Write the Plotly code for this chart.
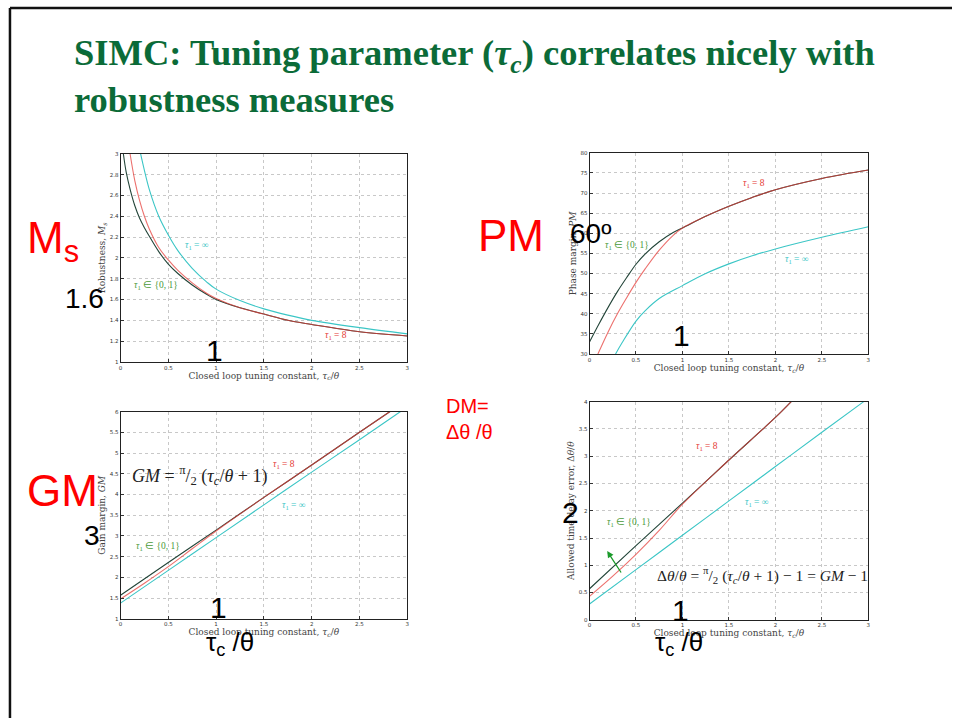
import plotly.graph_objects as go

W, H = 954, 721

# ---------------- data ----------------
ms_dark_x = [0.03, 0.06, 0.1, 0.15, 0.2, 0.25, 0.3, 0.4, 0.5, 0.6, 0.75, 0.9, 1.0, 1.25, 1.5, 1.75, 2.0, 2.5, 3.0]
ms_dark_y = [3.0, 2.82, 2.66, 2.50, 2.38, 2.29, 2.21, 2.06, 1.94, 1.85, 1.74, 1.65, 1.60, 1.52, 1.46, 1.40, 1.36, 1.29, 1.25]
ms_red_x = [0.10, 0.15, 0.2, 0.25, 0.3, 0.4, 0.5, 0.6, 0.75, 0.9, 1.0, 1.25, 1.5, 1.75, 2.0, 2.5, 3.0]
ms_red_y = [3.0, 2.74, 2.55, 2.40, 2.28, 2.10, 1.98, 1.88, 1.76, 1.66, 1.61, 1.52, 1.46, 1.40, 1.36, 1.29, 1.25]
ms_cyan_x = [0.21, 0.25, 0.3, 0.4, 0.5, 0.6, 0.75, 0.9, 1.0, 1.25, 1.5, 1.75, 2.0, 2.5, 3.0]
ms_cyan_y = [3.0, 2.84, 2.66, 2.40, 2.22, 2.07, 1.90, 1.77, 1.70, 1.59, 1.51, 1.45, 1.40, 1.33, 1.27]

pm_dark_x = [0.0, 0.1, 0.2, 0.3, 0.4, 0.5, 0.6, 0.75, 0.9, 1.0, 1.25, 1.5, 1.75, 2.0, 2.5, 3.0]
pm_dark_y = [33.0, 37.4, 41.6, 45.5, 49.0, 52.3, 54.9, 57.9, 60.2, 61.3, 64.2, 66.7, 68.9, 70.8, 73.6, 75.7]
pm_red_x = [0.09, 0.2, 0.3, 0.4, 0.5, 0.6, 0.75, 0.9, 1.0, 1.25, 1.5, 1.75, 2.0, 2.5, 3.0]
pm_red_y = [30.0, 35.5, 40.0, 44.0, 47.8, 51.2, 55.8, 59.5, 61.3, 64.2, 66.7, 68.9, 70.8, 73.6, 75.7]
pm_cyan_x = [0.28, 0.35, 0.5, 0.6, 0.75, 1.0, 1.25, 1.5, 1.75, 2.0, 2.5, 3.0]
pm_cyan_y = [30.0, 32.8, 38.2, 40.8, 43.8, 47.0, 50.0, 52.4, 54.4, 56.1, 59.0, 61.6]

gm_dark_x = [0.0, 0.5, 1.0, 1.5, 2.0, 2.5, 2.82]
gm_dark_y = [1.57, 2.36, 3.14, 3.93, 4.71, 5.50, 6.0]
gm_red_x = [0.0, 0.25, 0.5, 0.75, 1.0, 1.5, 2.0, 2.5, 2.82]
gm_red_y = [1.48, 1.86, 2.26, 2.69, 3.12, 3.93, 4.71, 5.50, 6.0]
gm_cyan_x = [0.0, 0.5, 1.0, 1.5, 2.0, 2.5, 2.93]
gm_cyan_y = [1.38, 2.17, 2.96, 3.75, 4.54, 5.32, 6.0]

dm_dark_x = [0.0, 0.5, 1.0, 1.5, 2.0, 2.17]
dm_dark_y = [0.57, 1.36, 2.14, 2.93, 3.71, 4.0]
dm_red_x = [0.0, 0.25, 0.5, 0.75, 1.0, 1.5, 2.0, 2.17]
dm_red_y = [0.43, 0.80, 1.20, 1.64, 2.12, 2.93, 3.71, 4.0]
dm_cyan_x = [0.0, 0.5, 1.0, 1.5, 2.0, 2.5, 2.95]
dm_cyan_y = [0.29, 0.92, 1.55, 2.18, 2.81, 3.44, 4.0]

x_ticks = [0, 0.5, 1, 1.5, 2, 2.5, 3]
x_tick_text = ["0", "0.5", "1", "1.5", "2", "2.5", "3"]

C_DARK = "#24463a"
C_RED = "#e53a36"
C_CYAN = "#3cc6c6"
C_LBL_GREEN = "#4a9a3a"

# ---------------- layout helpers ----------------
def px(x):
    return x / W

def py(y):
    return 1 - y / H

boxes = {
    1: (119, 407, 152, 362),
    2: (590, 870, 151, 354),
    3: (119, 407, 412, 621),
    4: (590, 870, 402, 622),
}
yranges = {1: (1, 3), 2: (30, 80), 3: (1, 6), 4: (0, 4)}
ydticks = {1: 0.2, 2: 5, 3: 0.5, 4: 0.5}
ytitles = {
    1: "Robustness, <i>M<sub>s</sub></i>",
    2: "Phase margin, <i>PM</i>",
    3: "Gain margin, <i>GM</i>",
    4: "Allowed time delay error, Δ<i>θ</i>/<i>θ</i>",
}

fig = go.Figure()

series = {
    1: [(ms_dark_x, ms_dark_y), (ms_red_x, ms_red_y), (ms_cyan_x, ms_cyan_y)],
    2: [(pm_dark_x, pm_dark_y), (pm_red_x, pm_red_y), (pm_cyan_x, pm_cyan_y)],
    3: [(gm_dark_x, gm_dark_y), (gm_red_x, gm_red_y), (gm_cyan_x, gm_cyan_y)],
    4: [(dm_dark_x, dm_dark_y), (dm_red_x, dm_red_y), (dm_cyan_x, dm_cyan_y)],
}
for k in range(1, 5):
    xa = "x" if k == 1 else f"x{k}"
    ya = "y" if k == 1 else f"y{k}"
    (dx, dy), (rx, ry), (cx, cy) = series[k]
    fig.add_trace(go.Scatter(x=cx, y=cy, mode="lines", line=dict(color=C_CYAN, width=1.1, shape="spline"),
                             xaxis=xa, yaxis=ya, showlegend=False, hoverinfo="skip"))
    fig.add_trace(go.Scatter(x=dx, y=dy, mode="lines", line=dict(color=C_DARK, width=1.1, shape="spline"),
                             xaxis=xa, yaxis=ya, showlegend=False, hoverinfo="skip"))
    fig.add_trace(go.Scatter(x=rx, y=ry, mode="lines", line=dict(color=C_RED, width=1.1, shape="spline"),
                             xaxis=xa, yaxis=ya, showlegend=False, hoverinfo="skip", opacity=0.72))

axis_common = dict(showline=True, mirror=True, linecolor="#222", linewidth=1,
                   showgrid=True, gridcolor="#c8c8c8", griddash="dot", gridwidth=1,
                   ticks="inside", ticklen=3, tickcolor="#333", zeroline=False,
                   tickfont=dict(size=5.5, color="#333", family="DejaVu Sans"))

layout = dict(width=W, height=H, margin=dict(l=0, r=0, t=0, b=0),
              paper_bgcolor="white", plot_bgcolor="white", showlegend=False)
for k in range(1, 5):
    l, r, t, b = boxes[k]
    xk = "xaxis" if k == 1 else f"xaxis{k}"
    yk = "yaxis" if k == 1 else f"yaxis{k}"
    ya = "y" if k == 1 else f"y{k}"
    xa = "x" if k == 1 else f"x{k}"
    layout[xk] = dict(axis_common, domain=[px(l), px(r)], range=[0, 3], anchor=ya,
                      tickvals=x_ticks, ticktext=x_tick_text,
                      title=dict(text="Closed loop tuning constant, <i>τ<sub>c</sub></i>/<i>θ</i>",
                                 font=dict(size=9, family="DejaVu Serif", color="#444"), standoff=2))
    y0, y1 = yranges[k]
    layout[yk] = dict(axis_common, domain=[py(b), py(t)], range=[y0, y1], anchor=xa,
                      dtick=ydticks[k], tick0=y0,
                      title=dict(text=ytitles[k], font=dict(size=9, family="DejaVu Serif", color="#444"),
                                 standoff=2))
fig.update_layout(**layout)

ann = []

def lab(k, x, y, text, color, size=9.5, family="Liberation Serif"):
    xa = "x" if k == 1 else f"x{k}"
    ya = "y" if k == 1 else f"y{k}"
    ann.append(dict(x=x, y=y, xref=xa, yref=ya, text=text, showarrow=False,
                    font=dict(size=size, color=color, family=family)))

T_INF = "<i>τ</i><sub>1</sub> = ∞"
T_01 = "<i>τ</i><sub>1</sub> ∈ {0, 1}"
T_8 = "<i>τ</i><sub>1</sub> = 8"

lab(1, 0.80, 2.12, T_INF, C_CYAN)
lab(1, 0.37, 1.73, T_01, C_LBL_GREEN)
lab(1, 2.25, 1.25, T_8, C_RED)
lab(2, 1.77, 72.4, T_8, C_RED)
lab(2, 0.40, 57.0, T_01, C_LBL_GREEN)
lab(2, 2.23, 53.6, T_INF, C_CYAN)
lab(3, 1.71, 4.73, T_8, C_RED)
lab(3, 1.81, 3.73, T_INF, C_CYAN)
lab(3, 0.39, 2.75, T_01, C_LBL_GREEN)
lab(4, 1.26, 3.17, T_8, C_RED)
lab(4, 1.80, 2.15, T_INF, C_CYAN)
lab(4, 0.42, 1.79, T_01, C_LBL_GREEN)

lab(3, 0.83, 4.45, "<i>GM</i> = <sup>π</sup>/<sub>2</sub> (<i>τ<sub>c</sub></i>/<i>θ</i> + 1)", "#222",
    size=18, family="Liberation Serif")
lab(4, 1.86, 0.82, "Δ<i>θ</i>/<i>θ</i> = <sup>π</sup>/<sub>2</sub> (<i>τ<sub>c</sub></i>/<i>θ</i> + 1) − 1 = <i>GM</i> − 1",
    "#222", size=15.5, family="Liberation Serif")

# green arrow in DM plot
ann.append(dict(x=0.19, y=1.26, ax=0.35, ay=0.84, xref="x4", yref="y4", axref="x4", ayref="y4",
                text="", showarrow=True, arrowhead=2, arrowsize=1, arrowwidth=1.3, arrowcolor="#1a9a2a"))

# title
TITLE_C = "#0b6b38"
ann.append(dict(x=px(70), y=py(53), xref="paper", yref="paper", xanchor="left", yanchor="middle",
                text="<b>SIMC: Tuning parameter (<i>τ<sub>c</sub></i>) correlates nicely with</b>",
                showarrow=False, font=dict(size=36.5, color=TITLE_C, family="Liberation Serif")))
ann.append(dict(x=px(70), y=py(97), xref="paper", yref="paper", xanchor="left", yanchor="middle",
                text="<b>robustness measures</b>",
                showarrow=False, font=dict(size=36.5, color=TITLE_C, family="Liberation Serif")))

def big(x, y, text, color, size, anchor="left"):
    ann.append(dict(x=px(x), y=py(y), xref="paper", yref="paper", xanchor=anchor, yanchor="middle",
                    text=text, showarrow=False, font=dict(size=size, color=color, family="Liberation Sans")))

RED = "#ff0000"
big(23, 240, "M<sub>s</sub>", RED, 44)
big(476, 234, "PM", RED, 44)
big(23, 492, "GM", RED, 44)
big(444, 406, "DM=", RED, 20)
big(444, 433, "Δθ /θ", RED, 20)

big(61, 298, "1.6", "#000", 28)
big(203, 350, "1", "#000", 30)
big(568, 232, "60º", "#000", 28)
big(672, 335, "1", "#000", 30)
big(80, 537, "3", "#000", 28)
big(207, 610, "1", "#000", 30)
big(560, 514, "2", "#000", 30)
big(671, 613, "1", "#000", 30)
big(203, 646, "τ<sub>c</sub> /θ", "#000", 26)
big(654, 646, "τ<sub>c</sub> /θ", "#000", 26)

fig.update_layout(annotations=ann)

# slide border
fig.add_shape(type="line", xref="paper", yref="paper", x0=px(8), x1=1, y0=py(5), y1=py(5),
              line=dict(color="#111", width=2.5))
fig.add_shape(type="line", xref="paper", yref="paper", x0=px(8), x1=px(8), y0=py(5), y1=0,
              line=dict(color="#111", width=2.5))

fig.write_html("out.html")
